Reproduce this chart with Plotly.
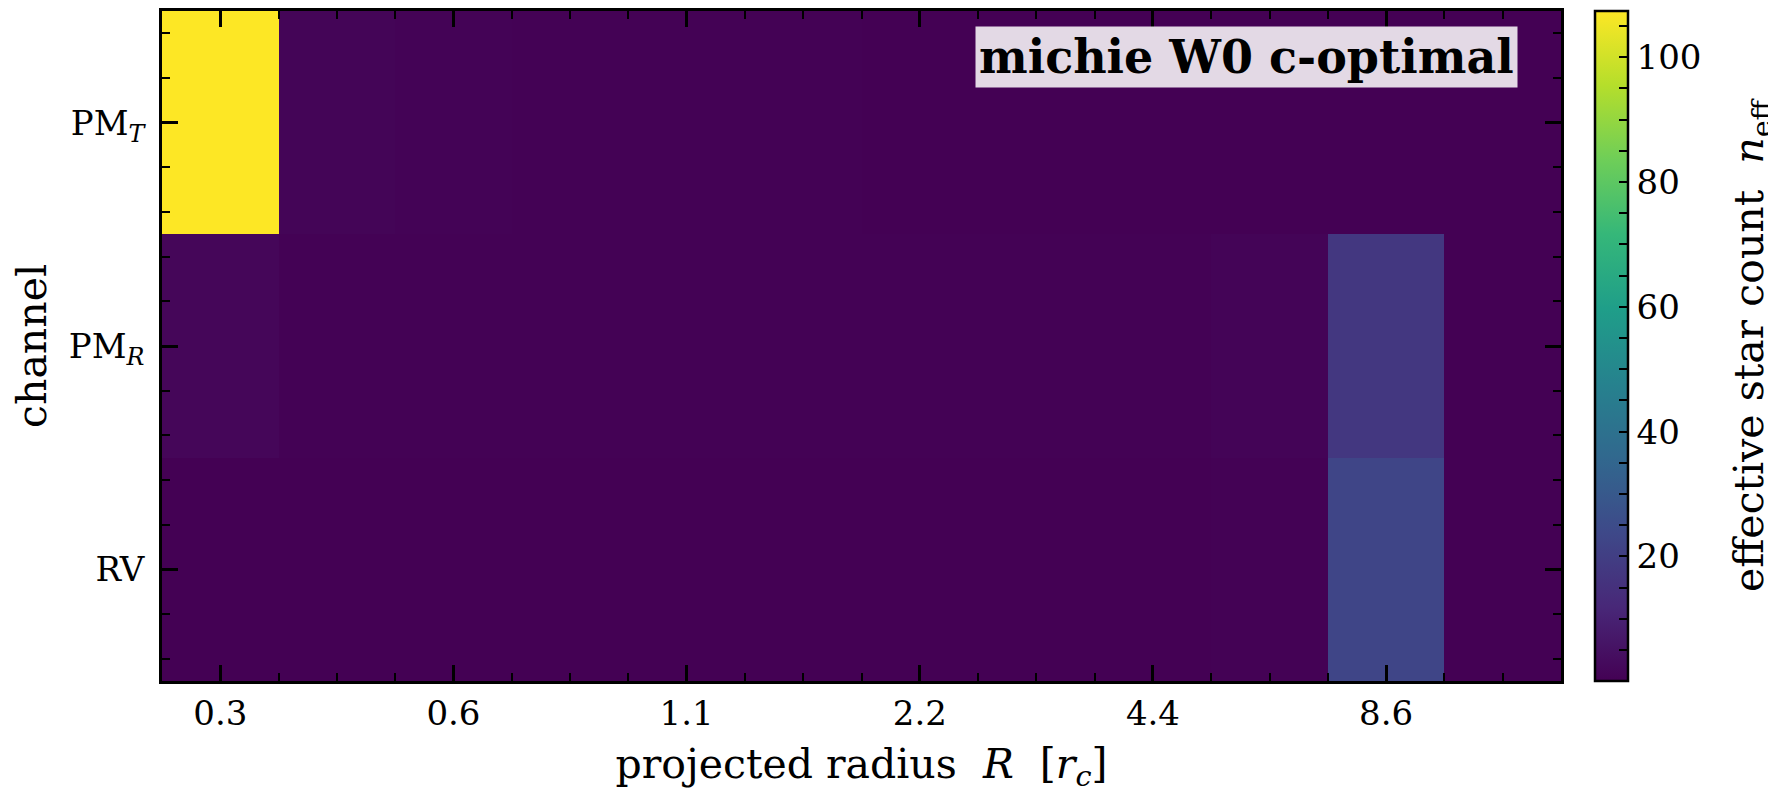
import plotly.graph_objects as go

# ---- data ----
radius_labels = ["0.3", "", "0.6", "", "1.1", "", "2.2", "", "4.4", "", "8.6", ""]
channels = ["PM<sub><i>T</i></sub>", "PM<sub><i>R</i></sub>", "RV"]
n_eff_PM_T = [107.4, 1.2, 0.8, 0.4, 0.3, 0.3, 0.2, 0.2, 0.2, 0.2, 0.2, 0.15]
n_eff_PM_R = [1.6, 0.5, 0.4, 0.3, 0.3, 0.3, 0.3, 0.3, 0.4, 1.0, 17.5, 0.2]
n_eff_RV = [0.2, 0.15, 0.15, 0.15, 0.15, 0.15, 0.15, 0.15, 0.2, 0.3, 22.5, 0.05]
cbar_ticks = [5, 10, 15, 20, 25, 30, 35, 40, 45, 50, 55, 60, 65, 70, 75, 80, 85, 90, 95, 100, 105]
cbar_labelled = [20, 40, 60, 80, 100]
title_text = "michie W0 c-optimal"

z = [n_eff_PM_T, n_eff_PM_R, n_eff_RV]
x_idx = list(range(len(radius_labels)))
y_idx = list(range(len(channels)))

FONT = "DejaVu Serif"
NB = "\u00a0"

fig = go.Figure(go.Heatmap(
    z=z, x=x_idx, y=y_idx,
    colorscale="Viridis",
    colorbar=dict(
        thickness=33, len=1.0, lenmode="fraction", y=0.5, yanchor="middle",
        x=1.0243, xanchor="left", xpad=0, ypad=0,
        outlinecolor="black", outlinewidth=2.5,
        ticks="inside", ticklen=10, tickwidth=2, tickcolor="black",
        tickmode="array",
        tickvals=cbar_ticks,
        ticktext=[(str(v) + NB * 4) if v in cbar_labelled else "" for v in cbar_ticks],
        tickfont=dict(family=FONT, size=34, color="black"),
        title=dict(text="effective star count  <i>n</i><sub>eff</sub>", side="right",
                   font=dict(family=FONT, size=41, color="black")),
    ),
    hoverinfo="skip",
))

major_x = [i for i, t in enumerate(radius_labels) if t]
fig.update_xaxes(
    range=[-0.5, len(radius_labels) - 0.5],
    tickmode="array", tickvals=major_x, ticktext=[radius_labels[i] for i in major_x],
    ticks="inside", ticklen=16, tickwidth=2.5, tickcolor="black",
    minor=dict(ticks="inside", ticklen=8, tickwidth=2, tickcolor="black", dtick=0.5, tick0=0),
    showline=True, linecolor="black", linewidth=2.5, mirror="ticks",
    showgrid=False, zeroline=False,
    tickfont=dict(family=FONT, size=34, color="black"),
    title=dict(text="projected radius  <i>R</i>  [<i>r</i><sub><i>c</i></sub>]",
               font=dict(family=FONT, size=41, color="black"), standoff=18),
)
fig.update_yaxes(
    range=[len(channels) - 0.5, -0.5],
    tickmode="array", tickvals=y_idx, ticktext=channels,
    ticks="inside", ticklen=16, tickwidth=2.5, tickcolor="black",
    minor=dict(ticks="inside", ticklen=8, tickwidth=2, tickcolor="black", dtick=0.2, tick0=0),
    showline=True, linecolor="black", linewidth=2.5, mirror="ticks",
    showgrid=False, zeroline=False,
    ticklabelstandoff=8,
    tickfont=dict(family=FONT, size=34, color="black"),
    title=dict(text="channel", font=dict(family=FONT, size=41, color="black"), standoff=22),
)

fig.add_annotation(
    xref="paper", yref="paper", x=0.969, y=0.977, xanchor="right", yanchor="top",
    text="<b>" + title_text + "</b>", showarrow=False,
    font=dict(family=FONT, size=46, color="black"),
    bgcolor="rgba(255,255,255,0.85)", borderpad=3,
)

fig.update_layout(
    width=1776, height=798,
    margin=dict(l=154, r=223, t=0, b=125),
    plot_bgcolor="white", paper_bgcolor="white",
    font=dict(family=FONT, color="black"),
)

fig.write_html("out.html")
